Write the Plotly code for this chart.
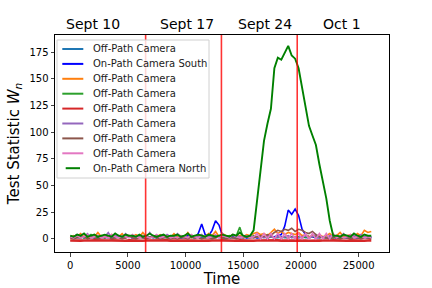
import plotly.graph_objects as go

step = 300
time = list(range(0, 26400, step))  # 88 sample times

names = ["Off-Path Camera", "On-Path Camera South", "Off-Path Camera", "Off-Path Camera",
         "Off-Path Camera", "Off-Path Camera", "Off-Path Camera", "Off-Path Camera",
         "On-Path Camera North"]
colors = ["#1f77b4", "#0000ff", "#ff7f0e", "#2ca02c", "#d62728", "#9467bd", "#8c564b",
          "#e377c2", "#008000"]

off_blue = [1, 2, 1, 1, 2, 1, 2, 1, 1, 2,
            1, 2, 1, 1, 2, 1, 1, 2, 1, 1,
            2, 1, 1, 2, 1, 2, 1, 1, 2, 1,
            1, 2, 1, 1, 2, 1, 1, 2, 1, 2,
            1, 1, 2, 1, 1, 2, 1, 1, 2, 1,
            2, 1, 1, 2, 1, 1, 2, 1, 2, 1,
            1, 2, 1, 1, 2, 1, 1, 2, 1, 1,
            2, 1, 1, 2, 1, 2, 1, 1, 2, 1,
            1, 2, 1, 1, 2, 1, 2, 1]

south = [2, 1, 2, 3, 1, 2, 2, 1, 3, 2,
         2, 1, 2, 2, 3, 1, 2, 2, 1, 2,
         2, 3, 1, 2, 2, 1, 2, 3, 2, 1,
         2, 2, 1, 2, 3, 2, 1, 5, 14, 4,
         3, 8, 17, 13, 3, 2, 1, 2, 2, 1,
         2, 1, 2, 2, 1, 2, 2, 1, 2, 2,
         3, 4, 12, 27, 23, 28, 22, 9, 4, 2,
         2, 1, 2, 2, 1, 2, 2, 1, 2, 2,
         1, 2, 2, 1, 2, 2, 1, 2]

off_orange = [1, 3, 2, 5, 2, 1, 3, 2, 6, 2,
              3, 1, 4, 2, 2, 5, 1, 3, 2, 4,
              2, 6, 2, 1, 3, 2, 4, 2, 3, 1,
              5, 2, 3, 2, 6, 1, 2, 4, 3, 2,
              5, 3, 7, 2, 5, 3, 2, 4, 2, 3,
              2, 4, 3, 5, 6, 4, 5, 3, 6, 9,
              5, 7, 4, 6, 5, 4, 6, 3, 4, 2,
              3, 2, 4, 2, 3, 5, 2, 3, 6, 2,
              3, 4, 2, 5, 3, 8, 6, 7]

off_green = [2, 1, 3, 2, 1, 2, 4, 1, 2, 3,
             1, 2, 3, 1, 2, 2, 1, 3, 2, 1,
             2, 3, 1, 2, 2, 1, 3, 2, 1, 2,
             2, 1, 2, 3, 1, 2, 1, 2, 3, 1,
             2, 1, 3, 2, 1, 2, 3, 1, 3, 11,
             1, 2, 1, 3, 2, 1, 2, 1, 2, 1,
             2, 1, 2, 1, 2, 1, 2, 1, 2, 1,
             2, 3, 1, 2, 1, 2, 1, 3, 2, 1,
             2, 1, 3, 2, 1, 2, 1, 2]

off_red = [-1.5, -1.7, -1.4, -1.6, -1.5, -1.8, -1.5, -1.4, -1.6, -1.5,
           -1.7, -1.5, -1.4, -1.6, -1.5, -1.5, -1.7, -1.4, -1.6, -1.5,
           -1.5, -1.8, -1.5, -1.4, -1.6, -1.5, -1.7, -1.5, -1.4, -1.6,
           -1.5, -1.5, -1.7, -1.4, -1.6, -1.5, -1.5, -1.8, -1.5, -1.4,
           -1.6, -1.5, -1.7, -1.5, -1.4, -1.6, -1.5, -1.5, -1.7, -1.4,
           -1.6, -1.5, -1.5, -1.8, -1.5, -1.4, -1.6, -1.5, -1.7, -1.5,
           -1.4, -1.6, -1.5, -1.5, -1.7, -1.4, -1.6, -1.5, -1.5, -1.8,
           -1.5, -1.4, -1.6, -1.5, -1.7, -1.5, -1.4, -1.6, -1.5, -1.5,
           -1.7, -1.4, -1.6, -1.5, -1.5, -1.8, -1.5, -1.4]

off_purple = [1, 2, 4, 1, 2, 5, 1, 2, 3, 1,
              2, 6, 1, 3, 2, 1, 5, 2, 1, 2,
              3, 1, 2, 6, 1, 2, 3, 1, 4, 2,
              1, 5, 2, 1, 2, 3, 1, 2, 4, 1,
              2, 3, 1, 2, 5, 1, 2, 1, 3, 2,
              1, 2, 3, 1, 2, 2, 1, 3, 2, 1,
              2, 1, 2, 3, 1, 2, 1, 2, 3, 1,
              2, 4, 1, 2, 1, 3, 2, 1, 2, 5,
              1, 2, 3, 1, 4, 2, 1, 2]

off_brown = [1, 0, 1, 1, 2, 0, 1, 1, 0, 1,
             1, 2, 0, 1, 1, 0, 1, 2, 1, 0,
             1, 1, 0, 1, 2, 1, 0, 1, 1, 0,
             1, 0, 1, 1, 0, 2, 1, 1, 0, 1,
             1, 0, 1, 2, 1, 0, 1, 1, 0, 1,
             1, 2, 1, 1, 2, 3, 2, 4, 3, 6,
             8, 7, 9, 8, 10, 7, 9, 8, 6, 5,
             7, 4, 2, 1, 1, 0, 1, 1, 0, 1,
             1, 0, 1, 1, 0, 1, 1, 0]

off_pink = [2, 1, 3, 1, 2, 4, 1, 2, 3, 1,
            2, 1, 4, 2, 1, 3, 2, 1, 4, 2,
            1, 3, 2, 1, 2, 4, 1, 2, 3, 1,
            2, 1, 3, 2, 1, 4, 2, 1, 3, 2,
            1, 2, 4, 1, 3, 2, 1, 4, 2, 1,
            2, 3, 1, 2, 5, 0, 5, 0, 5, 0,
            5, 0, 5, 0, 5, 0, 5, 0, 5, 0,
            5, 0, 5, 0, 5, 0, 5, 1, 3, 1,
            2, 4, 1, 2, 3, 1, 2, 1]

north = [3, 2, 4, 3, 5, 2, 3, 4, 2, 3,
         4, 3, 2, 5, 3, 2, 4, 3, 3, 2,
         4, 2, 3, 5, 3, 2, 3, 4, 2, 3,
         3, 4, 2, 3, 5, 2, 3, 4, 3, 2,
         4, 3, 2, 3, 4, 3, 2, 4, 3, 6,
         3, 2, 3,
         8, 35, 62, 92, 108, 122, 160, 170,
         168, 175, 181, 172, 169, 160, 141, 124, 106, 97,
         88, 70, 55, 38, 17, 3,
         3, 2, 4, 3, 2, 5, 3, 2, 4, 3, 3]

series = [off_blue, south, off_orange, off_green, off_red, off_purple, off_brown,
          off_pink, north]

week_lines = [6540, 13110, 19680]
week_labels = ["Sept 10", "Sept 17", "Sept 24", "Oct 1"]
week_label_pos = [1950, 10160, 16900, 23570]

fig = go.Figure()
for nm, col, ys in zip(names, colors, series):
    w = 1.9 if nm == "On-Path Camera North" else 1.6
    if col == "#d62728":
        w = 2.6
    fig.add_trace(go.Scatter(x=time, y=ys, mode="lines", name=nm, showlegend=False,
                             line=dict(color=col, width=w)))

for xv in week_lines:
    fig.add_shape(type="line", x0=xv, x1=xv, xref="x", y0=0, y1=1, yref="paper",
                  line=dict(color="rgba(255,0,0,0.8)", width=1.6))

for lab, xv in zip(week_labels, week_label_pos):
    fig.add_annotation(x=xv, xref="x", y=1.005, yref="paper", yanchor="bottom",
                       text=lab, showarrow=False,
                       font=dict(size=14, color="black", family="DejaVu Sans"))

# legend box drawn in plot-area (paper) coordinates, matplotlib style
PW, PH = 334.0, 217.0
def px(v):
    return v / PW
def py(v):
    return 1 - v / PH

fig.add_shape(type="rect", xref="paper", yref="paper", layer="above",
              x0=px(2), x1=px(154), y0=py(143), y1=py(5),
              line=dict(color="#d0d0d0", width=1), fillcolor="rgba(255,255,255,0.8)")
for k, (nm, col) in enumerate(zip(names, colors)):
    yc = 14 + 14.9 * k
    if k == len(names) - 1:
        x0, x1 = 10.7, 25
    else:
        x0, x1 = 7.3, 28.3
    fig.add_shape(type="line", xref="paper", yref="paper", layer="above",
                  x0=px(x0), x1=px(x1), y0=py(yc), y1=py(yc),
                  line=dict(color=col, width=2))
    fig.add_annotation(xref="paper", yref="paper", x=px(36), y=py(yc),
                       xanchor="left", yanchor="middle", text=nm, showarrow=False,
                       font=dict(size=10, color="#1a1a1a", family="DejaVu Sans"))

fig.update_layout(
    width=432, height=288,
    margin=dict(l=55, r=43, t=35, b=36),
    paper_bgcolor="white", plot_bgcolor="white",
    font=dict(family="DejaVu Sans", size=10, color="black"),
    showlegend=False,
)
fig.update_xaxes(range=[-1316, 27636], tickvals=[0, 5000, 10000, 15000, 20000, 25000],
                 tickformat="d", automargin=False,
                 ticks="outside", ticklen=3.5, tickwidth=1, showgrid=False, zeroline=False,
                 showline=True, linecolor="black", linewidth=1, mirror=True,
                 title=dict(text="Time", font=dict(size=15), standoff=2))
fig.update_yaxes(range=[-12.3, 191.2], tickvals=[0, 25, 50, 75, 100, 125, 150, 175],
                 automargin=False,
                 ticks="outside", ticklen=3.5, tickwidth=1, showgrid=False, zeroline=False,
                 showline=True, linecolor="black", linewidth=1, mirror=True,
                 title=dict(text="Test Statistic <i>W</i><sub><i>n</i></sub>",
                            font=dict(size=15), standoff=6))

fig.write_html("out.html", config={"displayModeBar": False},
               post_script="document.body.style.margin='0px';document.body.style.overflow='hidden';")
